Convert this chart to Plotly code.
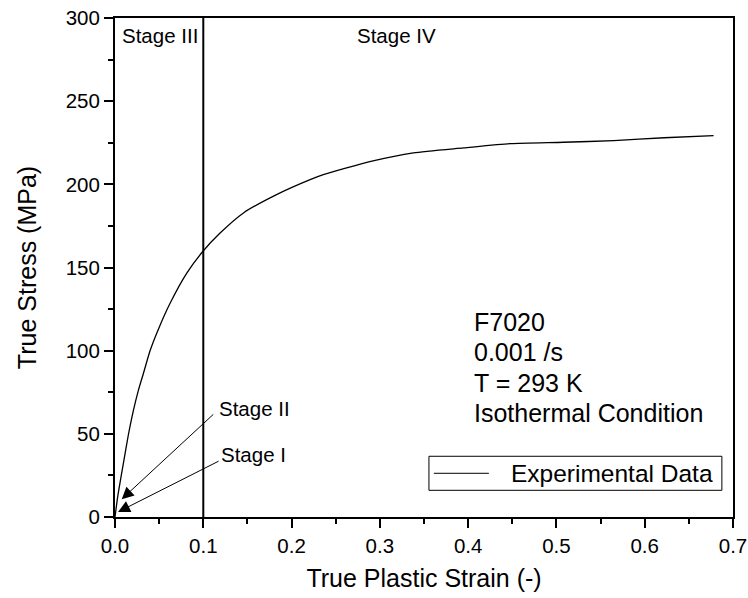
import plotly.graph_objects as go

# values
strain = [0, 0.003, 0.0094, 0.015, 0.0208, 0.0264, 0.032, 0.0397, 0.05, 0.0624,
          0.0813, 0.0994, 0.119, 0.1455, 0.183, 0.221, 0.236, 0.291, 0.338,
          0.395, 0.448, 0.508, 0.565, 0.622, 0.678]
stress = [0, 12, 32, 49, 64, 76, 86, 100, 114, 128.5,
          146.6, 159.6, 170.7, 182.8, 193.8, 202.8, 205.8, 213.9, 218.9,
          221.9, 224.5, 225.3, 226.3, 228, 229.3]
series_name = 'Experimental Data'
stage_boundary = 0.1
info_lines = ['F7020', '0.001 /s', 'T = 293 K', 'Isothermal Condition']

FONT = 'Arial, Liberation Sans, sans-serif'

fig = go.Figure()
fig.add_trace(go.Scatter(
    x=strain, y=stress, mode='lines', name=series_name,
    line=dict(color='black', width=1.3, shape='spline', smoothing=0.6),
    showlegend=False))

# vertical divider between stage III and IV
fig.add_shape(type='line', x0=stage_boundary, x1=stage_boundary, xref='x',
              y0=0, y1=1, yref='paper', line=dict(color='black', width=2))

# stage labels
stage_font = dict(size=20.5)
fig.add_annotation(x=0.006, y=289.5, text='Stage III', showarrow=False,
                   xanchor='left', font=stage_font)
fig.add_annotation(x=0.272, y=289.5, text='Stage IV', showarrow=False,
                   xanchor='left', font=stage_font)
fig.add_annotation(x=0.1155, y=65.5, text='Stage II', showarrow=False,
                   xanchor='left', font=stage_font)
fig.add_annotation(x=0.118, y=37.8, text='Stage I', showarrow=False,
                   xanchor='left', font=stage_font)

# arrows
fig.add_annotation(x=0.0076, y=10.7, ax=0.113, ay=62.5, axref='x', ayref='y',
                   text='', showarrow=True, arrowhead=2, arrowsize=2.4,
                   arrowwidth=1, arrowcolor='black')
fig.add_annotation(x=0.0034, y=3, ax=0.119, ay=34, axref='x', ayref='y',
                   text='', showarrow=True, arrowhead=2, arrowsize=2.4,
                   arrowwidth=1, arrowcolor='black')

# condition text block
for txt, yv in zip(info_lines, [117.2, 99.2, 80.5, 62.5]):
    fig.add_annotation(x=0.4043, y=yv, text=txt, showarrow=False,
                       xanchor='left', font=dict(size=25))

# legend box drawn by hand
fig.add_shape(type='rect', xref='paper', yref='paper',
              x0=0.508, x1=0.982, y0=0.0535, y1=0.1217,
              line=dict(color='black', width=1), fillcolor='white')
fig.add_shape(type='line', xref='paper', yref='paper',
              x0=0.516, x1=0.605, y0=0.0876, y1=0.0876,
              line=dict(color='black', width=1))
fig.add_annotation(xref='paper', yref='paper', x=0.637, y=0.0876,
                   text=series_name, showarrow=False, xanchor='left',
                   yanchor='middle', font=dict(size=24.5))

axis_common = dict(
    showline=True, linecolor='black', linewidth=2, mirror=True,
    ticks='outside', ticklen=9, tickwidth=2, tickcolor='black',
    showgrid=False, zeroline=False, automargin=False,
    ticklabeloverflow='allow',
    tickfont=dict(size=20.5, color='black'),
    title_font=dict(size=25, color='black'),
)

fig.update_xaxes(range=[0, 0.7], dtick=0.1, tickformat='.1f',
                 title_text='True Plastic Strain (-)', title_standoff=14,
                 minor=dict(dtick=0.05, ticks='outside', ticklen=5,
                            tickwidth=2, tickcolor='black'),
                 **axis_common)
fig.update_yaxes(range=[0, 300], dtick=50,
                 title_text='True Stress (MPa)', title_standoff=22,
                 minor=dict(dtick=25, ticks='outside', ticklen=5,
                            tickwidth=2, tickcolor='black'),
                 **axis_common)

fig.update_layout(
    width=748, height=598,
    margin=dict(l=115, r=15, t=18, b=81),
    plot_bgcolor='white', paper_bgcolor='white',
    font=dict(family=FONT, color='black'),
)

# drop the default 8px body margin so the figure fills the window exactly
fig.write_html('out.html', config={'displayModeBar': False},
               post_script="document.body.style.margin='0';"
                           "document.body.style.overflow='hidden';")
